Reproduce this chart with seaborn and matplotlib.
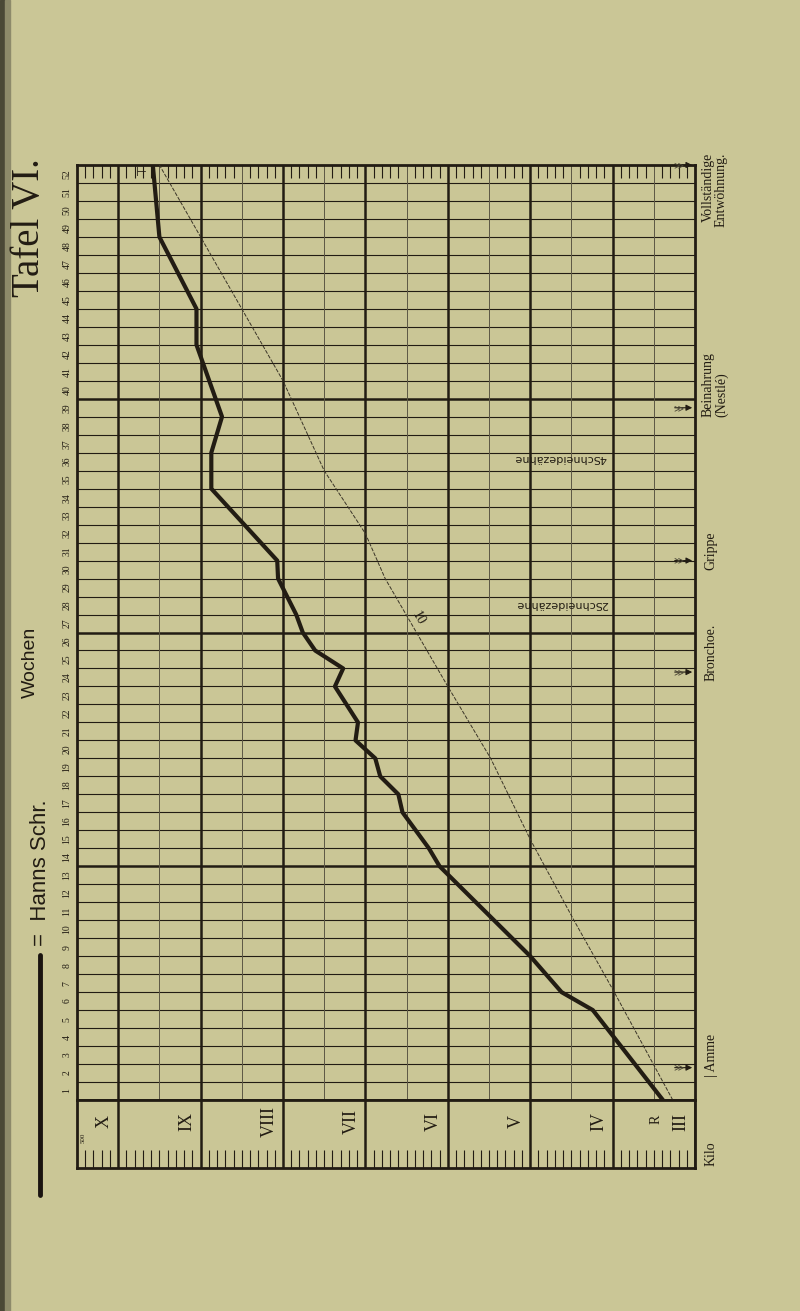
import numpy as np
import seaborn as sns
import matplotlib.pyplot as plt
from matplotlib.lines import Line2D
from matplotlib.patches import Rectangle
from matplotlib.transforms import blended_transform_factory

# Gewichtskurve Hanns Schr. (Woche -> Kilo)
wochen = [0, 5, 6, 8, 13, 14, 16, 17, 18, 19, 20, 21, 23, 24, 25, 26, 27, 29, 30, 34, 36, 38, 42, 44, 48, 52]
kilo = [3.39, 4.24, 4.62, 5.0, 6.1, 6.23, 6.55, 6.6, 6.82, 6.88, 7.12, 7.09, 7.37, 7.27, 7.61, 7.76, 7.84,
        8.06, 8.07, 8.87, 8.87, 8.74, 9.05, 9.05, 9.5, 9.58]

# Normalkurve (duenne gestrichelte Linie)
norm_wochen = [0, 6, 10, 14.5, 19, 23, 29, 31.5, 35, 40, 44, 52]
norm_kilo = [3.27, 3.98, 4.47, 5.0, 5.48, 6.0, 6.76, 7.0, 7.5, 8.0, 8.5, 9.5]

kilo_werte = [10, 9, 8, 7, 6, 5, 4, 3]
kilo_labels = ["X", "IX", "VIII", "VII", "VI", "V", "IV", "III"]

ereignisse = ["Vollständige\nEntwöhnung.", "Beinahrung\n(Nestlé)", "Grippe", "Bronchoe.", "| Amme"]
ereignis_wochen = [52, 38.5, 30, 23.8, 1.8]

zaehne = ["4Schneidezähne", "2Schneidezähne"]
zaehne_wochen = [35.7, 27.6]
zaehne_kilo = [4.64, 4.62]

papier = "#cac696"
tinte = "#221c13"
serif = ["Liberation Serif", "DejaVu Serif"]

sns.set_style("white")
plt.rcParams["font.family"] = serif

fig = plt.figure(figsize=(8, 13.11), dpi=100)
fig.patch.set_facecolor(papier)

# Buchruecken links
fig.add_artist(Rectangle((0, 0), 0.006, 1, transform=fig.transFigure, color="#4a4836", zorder=0))
fig.add_artist(Rectangle((0.006, 0), 0.007, 1, transform=fig.transFigure, color="#8d8a6a", zorder=0))

L, R = 77 / 800, 695 / 800
ax = fig.add_axes([L, 211 / 1311, R - L, 935 / 1311])
box = fig.add_axes([L, 143 / 1311, R - L, 68 / 1311])

for a in (ax, box):
    a.set_facecolor(papier)
    a.set_xlim(10.5, 3)
    a.set_xticks([])
    a.set_yticks([])
    for s in a.spines.values():
        s.set_color(tinte)
        s.set_linewidth(2.0)
ax.set_ylim(0, 52)
box.set_ylim(0, 1)

# Wochen-Raster
for w in range(1, 52):
    ax.axhline(w, color=tinte, lw=1.8 if w % 13 == 0 else 0.8, zorder=1)
for k in np.arange(3.5, 10.5, 0.5):
    if k == int(k):
        ax.axvline(k, color=tinte, lw=1.8, zorder=1)
    else:
        ax.axvline(k, color="#5c5744", lw=0.7, zorder=1)

# 100-g-Striche oben und unten
striche = [round(t, 1) for t in np.arange(3.1, 10.5, 0.1) if round(t * 10) % 10 != 0]
oben = [t for t in striche if round(t * 10) % 5 != 0]
ax.vlines(oben, 51.3, 52, color=tinte, lw=0.8)
box.vlines(striche, 0, 0.26, color=tinte, lw=0.8)
box.vlines(kilo_werte, 0, 1, color=tinte, lw=1.8)

for k, lab in zip(kilo_werte, kilo_labels):
    box.text(k + 0.17, 0.68, lab, rotation=90, ha="center", va="center",
             fontsize=13, color=tinte)
box.text(3.47, 0.72, "R", rotation=90, ha="center", va="center", fontsize=10, color=tinte)
box.text(10.42, 0.45, "500", rotation=90, ha="center", va="center", fontsize=5, color=tinte)

# Kurven
sns.lineplot(x=norm_kilo, y=norm_wochen, ax=ax, sort=False, estimator=None,
             color="#3a3427", lw=0.7, linestyle=(0, (4, 1.5)), zorder=3)
sns.lineplot(x=kilo, y=wochen, ax=ax, sort=False, estimator=None,
             color=tinte, lw=3.0, zorder=4)
ax.text(6.36, 26.8, "10", rotation=-60, ha="center", va="center", fontsize=10, color=tinte)
ax.text(9.72, 51.6, "⊢", ha="center", va="center", fontsize=9, color=tinte,
        family=["DejaVu Sans"])

for txt, w, k in zip(zaehne, zaehne_wochen, zaehne_kilo):
    ax.text(k, w, txt, rotation=180, ha="center", va="center", fontsize=8,
            color=tinte, family=["DejaVu Sans"])

# Ereignisse rechts
trans = blended_transform_factory(fig.transFigure, ax.transData)
for i, (txt, w) in enumerate(zip(ereignisse, ereignis_wochen)):
    ax.annotate("", xy=(3.0, w), xytext=(3.28, w),
                arrowprops=dict(arrowstyle="-|>", color=tinte, lw=0.8, mutation_scale=9))
    ax.text(3.2, w, "≫", ha="center", va="center", fontsize=7, color="#4a4535",
            family=["DejaVu Sans"])
    xpos = 715 / 800 if "\n" in txt else 711 / 800
    if i == 0:
        ax.text(xpos, w + 0.7, txt, transform=trans, rotation=90, rotation_mode="anchor",
                ha="right", va="center", fontsize=10, color=tinte, linespacing=0.95)
    else:
        ax.text(xpos, w - 0.5, txt, transform=trans, rotation=90, rotation_mode="anchor",
                ha="left", va="center", fontsize=10, color=tinte, linespacing=0.95)
fig.text(711 / 800, 1 - 1166 / 1311, "Kilo", rotation=90, rotation_mode="anchor",
         ha="left", va="center", fontsize=10, color=tinte)

# Wochen-Beschriftung links
for w in range(1, 53):
    ax.text(67 / 800, w - 0.5, str(w), transform=trans, rotation=90, ha="center",
            va="center", fontsize=7, color=tinte)

fig.text(30 / 800, 1 - 228 / 1311, "Tafel VI.", rotation=90, ha="center", va="center",
         fontsize=28, color=tinte)
fig.text(30 / 800, 1 - 662 / 1311, "Wochen", rotation=90, ha="center", va="center",
         fontsize=14, color=tinte, family=["Liberation Sans", "DejaVu Sans"])
fig.text(40 / 800, 1 - 946 / 1311, "=  Hanns Schr.", rotation=90, rotation_mode="anchor",
         ha="left", va="center", fontsize=16, color=tinte,
         family=["Liberation Sans", "DejaVu Sans"])
fig.add_artist(Line2D([40 / 800, 40 / 800], [1 - 955 / 1311, 1 - 1195 / 1311],
                      transform=fig.transFigure, color="#1a1410", lw=3.5))

fig.savefig("out.png", dpi=100, facecolor=papier)
